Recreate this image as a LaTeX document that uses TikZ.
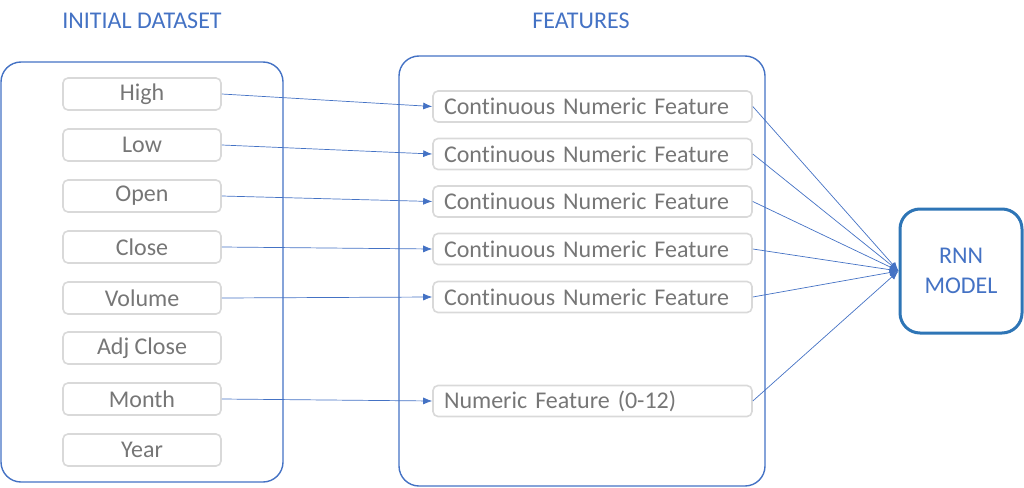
\documentclass[tikz,border=0pt]{standalone}
\usepackage{fontspec}
\setmainfont{Carlito}[Ligatures=NoCommon]
\usetikzlibrary{arrows.meta}
\definecolor{cblue}{HTML}{4472C4}
\definecolor{cdark}{HTML}{2E75B6}
\definecolor{cgray}{HTML}{767676}
\definecolor{cbord}{HTML}{D9D9D9}
\begin{document}
\begin{tikzpicture}[x=1pt,y=-1pt,
  lbl/.style={font=\fontsize{24}{28}\selectfont},
  container/.style={draw=cblue, line width=1.4pt, rounded corners=20pt},
  inbox/.style={draw=cbord, line width=1.6pt, rounded corners=5pt, text=cgray, lbl, minimum width=158pt, minimum height=32pt, inner sep=0pt},
  featbox/.style={draw=cbord, line width=1.6pt, rounded corners=5pt, text=cgray, lbl, minimum width=319pt, minimum height=31pt, inner xsep=11pt, inner ysep=0pt, text width=297pt, align=left},
  title/.style={text=cblue, lbl},
  conn/.style={draw=cblue, line width=0.7pt, -{Latex[length=9pt,width=7pt]}},
]
\useasboundingbox (0,0) rectangle (1024,487);
\node[title] (t1) at (142,21) {INITIAL DATASET};
\node[title] (t2) at (581,21) {FEATURES};
\draw[container] (1,62) rectangle (283,482);
\draw[container] (399,56) rectangle (765,486);

\node[inbox] (high) at (142,94) {High};
\node[inbox] (low) at (142,145) {Low};
\node[inbox] (open) at (142,196) {Open};
\node[inbox] (close) at (142,247) {Close};
\node[inbox] (volume) at (142,298) {Volume};
\node[inbox] (adj) at (142,348) {Adj Close};
\node[inbox] (month) at (142,399) {Month};
\node[inbox] (year) at (142,450) {Year};

\node[featbox] (f1) at (592.5,106.5) {Continuous Numeric Feature};
\node[featbox] (f2) at (592.5,154) {Continuous Numeric Feature};
\node[featbox] (f3) at (592.5,201.5) {Continuous Numeric Feature};
\node[featbox] (f4) at (592.5,249) {Continuous Numeric Feature};
\node[featbox] (f5) at (592.5,297) {Continuous Numeric Feature};
\node[featbox] (f6) at (592.5,401) {Numeric Feature (0-12)};

\node[draw=cdark, line width=3pt, rounded corners=20pt, minimum width=122pt, minimum height=124pt, text=cblue, lbl, align=center] (rnn) at (961,271) {RNN\\[2pt]MODEL};

\draw[conn] (high.east) -- (f1.west);
\draw[conn] (low.east) -- (f2.west);
\draw[conn] (open.east) -- (f3.west);
\draw[conn] (close.east) -- (f4.west);
\draw[conn] (volume.east) -- (f5.west);
\draw[conn] (month.east) -- (f6.west);

\foreach \f in {f1,f2,f3,f4,f5,f6}
  \draw[conn] (\f.east) -- (rnn.west);
\end{tikzpicture}
\end{document}
